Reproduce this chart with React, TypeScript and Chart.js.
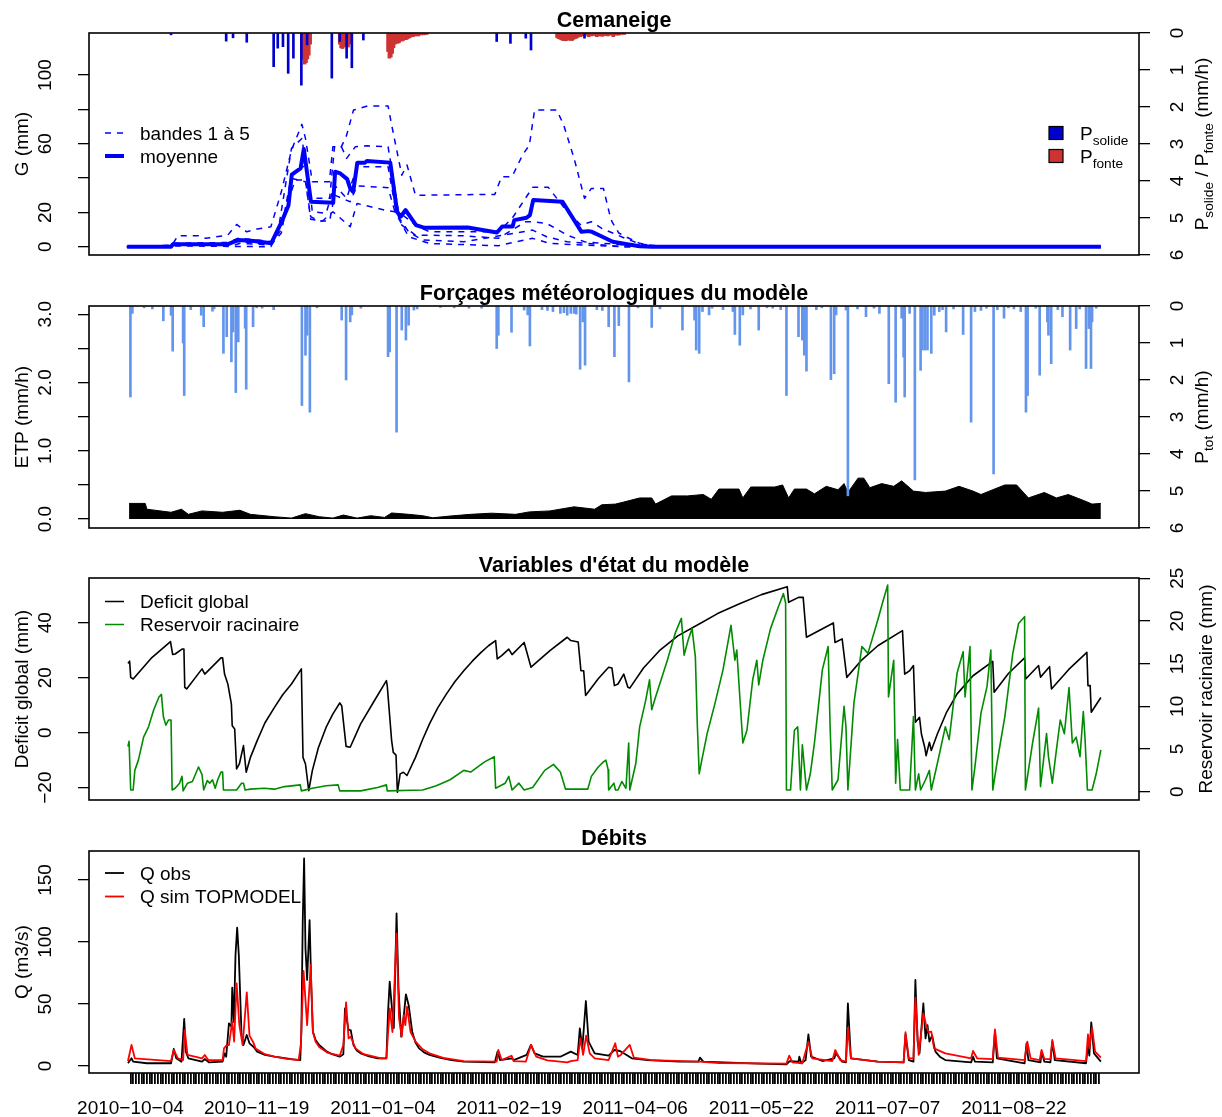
import React, { useEffect, useRef } from 'react';
import { Chart, registerables } from 'chart.js';

Chart.register(...registerables);

const FONT = '"Liberation Sans", Arial, Helvetica, sans-serif';

type Pt = [number, number];

// ---------------- time axis (days since 2010-10-04) ----------------
const X_MIN = -15.1;
const X_MAX = 367.6;
const axisTickDays: number[] = Array.from({ length: 354 }, (_, i) => i);
const dateLabelDays = [0, 46, 92, 138, 184, 230, 276, 322];
const dateLabels = ['2010\u221210\u221204', '2010\u221211\u221219', '2011\u221201\u221204', '2011\u221202\u221219',
  '2011\u221204\u221206', '2011\u221205\u221222', '2011\u221207\u221207', '2011\u221208\u221222'];

// ---------------- Panel 1 : Cemaneige ----------------
const meanG: Pt[] = [[-1.2, 0], [14.8, 0], [15.5, 1.5], [35.6, 1.5], [39.3, 4], [45, 3.3], [51.3, 2], [55.1, 14.5],
  [57.6, 24], [58.8, 42], [62.0, 45.6], [63.2, 57], [65.8, 26.2], [73.9, 25.6], [74.6, 43.7], [76.5, 42.7], [79.0, 39.4],
  [80.1, 34], [81.2, 32], [82.7, 49], [85.5, 49], [86.2, 50], [94.7, 49], [97.2, 20.4], [98.5, 17.5], [100.3, 21.4],
  [104.1, 12.6], [107.2, 11], [123.0, 11.2], [133.6, 8.3], [135.5, 11.8], [139.3, 11.8], [139.9, 15.5], [144.4, 16.9],
  [145.6, 18.4], [146.8, 27.2], [157.5, 26.2], [164.4, 8.7], [166.9, 9.1], [168.2, 8.7], [172.0, 5.8], [175.8, 2.9],
  [180.5, 1.6], [185.7, 0.3], [190, 0], [353.7, 0]];
const bandA: Pt[] = [[-1.3, 0], [14.8, 0], [17.3, 6.4], [24.8, 6.4], [27.4, 4.9], [35.5, 6.8], [38.7, 13], [42.4, 8.7],
  [46.2, 10.3], [51.2, 11.7], [55.0, 32], [58.7, 56.3], [62.5, 71.3], [63.8, 63.1], [66.3, 37.9], [72.5, 37.9],
  [73.8, 58.3], [76.9, 58.3], [78.8, 65], [81.3, 79.6], [86.4, 82], [93.9, 82], [95.2, 71], [98.9, 41.7], [100.8, 47.6],
  [103.9, 30], [132.8, 30.5], [135.3, 40.8], [139.1, 40.8], [142.9, 53.4], [145.4, 59.2], [147.3, 79.6], [155.4, 79.6],
  [157.9, 71], [161.7, 51.5], [165.5, 28.2], [168.0, 34], [172.4, 34], [174.5, 20], [175.5, 14.6], [178, 8],
  [180.3, 6], [185.6, 2], [191.4, 0.5], [200, 0], [353.7, 0]];
const bandB: Pt[] = [[-1.3, 0], [14.8, 0], [16, 2], [35.5, 2.5], [39.3, 5], [46, 4], [51.2, 3], [53.7, 8], [58.7, 57.3],
  [62.5, 63.1], [65.7, 28.2], [68.8, 28.2], [72.6, 28.2], [74.4, 58.3], [76.9, 58.3], [78.8, 51.5], [82.0, 58.3],
  [86.4, 58.8], [93.9, 58.3], [95.8, 39.8], [97.7, 20.4], [103.9, 12.6], [109.0, 8.7], [134.1, 8.7], [139.1, 16.5],
  [146.6, 34.6], [152.3, 34.6], [159.2, 20.4], [164.2, 12.6], [168.0, 14.6], [171.8, 10.7], [180.3, 4.9], [186, 1.5],
  [195, 0], [353.7, 0]];
const bandC: Pt[] = [[-1.3, 0], [14.8, 0], [16, 1.5], [35.5, 1.5], [39.3, 3], [51.2, 1.5], [55, 10], [58.7, 41.7],
  [63.8, 47.6], [65.0, 37.9], [66.3, 20.4], [71.3, 19.4], [74.4, 35.9], [78.8, 28.2], [82.6, 46.6], [93.9, 46.6],
  [96.4, 24.3], [98.9, 12.6], [103.9, 6.8], [121.5, 6.4], [134.1, 4.9], [144.1, 14.6], [146.6, 14.6], [151.7, 13.6],
  [159.2, 6.8], [165.5, 2.9], [180.3, 1], [188, 0], [353.7, 0]];
const bandD: Pt[] = [[-1.3, 0], [16, 1], [38, 1], [40, 2], [51.2, 1], [55, 8], [58.7, 39.8], [63.8, 37.9], [65.7, 17.5],
  [68.8, 15], [72.6, 15], [74.4, 30.1], [80.1, 26.2], [82.6, 35.5], [93.9, 34.4], [96.4, 20.4], [101.4, 8.7],
  [106.5, 3.9], [121.5, 2.9], [146.6, 9.7], [151.7, 5.8], [159.2, 2.9], [180.3, 0], [353.7, 0]];
const bandE: Pt[] = [[-1.3, 0], [16, 0.5], [51.2, 0], [53.7, 8.7], [57.5, 26.2], [60.0, 38.8], [63.8, 39], [65.7, 16],
  [70.0, 15], [73.8, 20.4], [80.1, 11.7], [82.6, 25.2], [87.6, 23.3], [92.6, 21.4], [96.4, 20.4], [101.4, 5.8],
  [109.0, 1.9], [134.1, 0.6], [146.6, 4.9], [152.9, 1.9], [180.3, 0], [353.7, 0]];
const solidRate: Pt[] = [[14.8, 0.05], [34.9, 0.22], [37.4, 0.13], [42.4, 0.25], [52.2, 0.91], [53.7, 0.41],
  [55.6, 0.37], [57.5, 1.09], [59.4, 0.68], [62.3, 1.41], [64.4, 0.32], [73.4, 1.22], [76.3, 0.23], [78.8, 0.68],
  [80.7, 0.94], [84.9, 0.19], [133.5, 0.23], [138.5, 0.28], [144.1, 0.14], [146.0, 0.46], [165.5, 0.14]];
const meltRate: Pt[] = [[62.5, 0.5], [63.0, 0.7], [63.5, 0.84], [64.0, 0.8], [64.5, 0.7], [65.0, 0.6], [65.5, 0.3],
  [76.3, 0.3], [76.8, 0.4], [77.3, 0.42], [77.8, 0.38], [78.3, 0.35], [78.8, 0.3], [79.3, 0.38], [79.8, 0.3], [80.3, 0.2],
  [93.9, 0.5], [94.4, 0.68], [94.9, 0.65], [95.4, 0.55], [95.9, 0.4], [96.4, 0.3], [96.9, 0.25], [97.4, 0.28],
  [97.9, 0.26], [98.4, 0.2], [98.9, 0.22], [99.4, 0.2], [99.9, 0.15], [100.4, 0.18], [100.9, 0.16], [101.4, 0.14],
  [101.9, 0.12], [102.4, 0.1], [103, 0.1], [104, 0.08], [105, 0.08], [106, 0.05], [107, 0.05], [108, 0.04],
  [155.5, 0.12], [156, 0.15], [156.5, 0.16], [157, 0.18], [157.5, 0.2], [158, 0.2], [158.5, 0.21], [159, 0.2],
  [159.5, 0.19], [160, 0.18], [160.5, 0.2], [161, 0.2], [161.5, 0.17], [162, 0.15], [162.5, 0.14], [163, 0.12],
  [163.5, 0.1], [164, 0.1], [165, 0.08], [166, 0.06], [167, 0.1], [168, 0.08], [169, 0.07], [170, 0.1], [171, 0.08],
  [172, 0.09], [173, 0.07], [174, 0.08], [175, 0.06], [176, 0.1], [177, 0.06], [178, 0.06], [179, 0.04], [180, 0.04]];

// ---------------- Panel 2 : forcings ----------------
const etp: Pt[] = [[-0.5, 0.23], [5.4, 0.23], [6.0, 0.145], [14.8, 0.1], [18.6, 0.145], [21.1, 0.07], [26.1, 0.12],
  [33.6, 0.1], [39.9, 0.13], [43.7, 0.07], [52.5, 0.035], [58.7, 0.015], [63.8, 0.08], [68.8, 0.035], [73.8, 0.015],
  [77.6, 0.06], [82.6, 0.015], [87.6, 0.05], [92.6, 0.025], [95.2, 0.09], [101.4, 0.07], [106.5, 0.05], [110.2, 0.02],
  [116.5, 0.045], [124.0, 0.07], [131.6, 0.087], [140.4, 0.07], [145.4, 0.106], [152.9, 0.12], [161.7, 0.18],
  [169.2, 0.145], [171.8, 0.21], [176.8, 0.22], [179.8, 0.25], [185.6, 0.31], [190.0, 0.31], [191.4, 0.22],
  [197.2, 0.34], [203.0, 0.34], [208.8, 0.36], [211.7, 0.29], [214.5, 0.44], [221.8, 0.44], [223.2, 0.31],
  [226.1, 0.47], [234.8, 0.47], [237.7, 0.5], [239.9, 0.31], [242.0, 0.44], [246.4, 0.44], [249.3, 0.37],
  [253.6, 0.48], [257.9, 0.43], [260.1, 0.52], [261.5, 0.39], [265.2, 0.6], [267.3, 0.6], [269.5, 0.46],
  [273.8, 0.52], [278.2, 0.48], [281.1, 0.56], [285.4, 0.41], [289.8, 0.39], [297.0, 0.41], [302.0, 0.48],
  [307.1, 0.41], [310.0, 0.36], [314.3, 0.43], [318.7, 0.5], [323.0, 0.5], [327.3, 0.31], [333.1, 0.39],
  [337.5, 0.31], [341.8, 0.36], [347.6, 0.27], [350.5, 0.22], [353.7, 0.23]];
const ptot: Pt[] = [[0.0, 2.46], [0.7, 0.2], [5, 0.05], [8, 0.08], [12.0, 0.4], [14.8, 0.25], [15.4, 1.22], [19.2, 1.0],
  [19.6, 2.42], [22, 0.1], [25.8, 0.25], [26.7, 0.56], [29.9, 0.14], [30.5, 0.08], [33.9, 1.28], [35.1, 0.83],
  [36.8, 1.51], [37.4, 0.7], [38.4, 2.34], [39.3, 0.97], [41.8, 0.6], [42.2, 2.25], [44.7, 0.56], [46, 0.05],
  [48, 0.06], [52.2, 0.1], [62.5, 2.69], [63.8, 1.33], [64.4, 0.79], [65.4, 2.87], [68, 0.05], [77.0, 0.38],
  [78.6, 2.0], [80.1, 0.43], [80.7, 0.24], [84, 0.06], [93.9, 1.37], [94.5, 1.24], [97.0, 3.41], [98.9, 0.65],
  [100.4, 0.92], [101.4, 0.52], [103.3, 0.11], [104.5, 0.08], [113, 0.04], [118, 0.05], [123.4, 0.06], [128, 0.06],
  [133.5, 1.15], [134.1, 0.79], [138.9, 0.71], [143.5, 0.11], [144.8, 0.24], [145.6, 1.08], [150, 0.1], [152, 0.12],
  [154, 0.15], [156.7, 0.2], [158, 0.18], [159.2, 0.25], [160.5, 0.2], [161.7, 0.2], [162.5, 0.22], [163.9, 1.71],
  [164.9, 0.43], [165.7, 1.6], [170, 0.1], [172, 0.12], [174.3, 0.56], [176.4, 1.37], [178.0, 0.53], [181.7, 2.05],
  [185, 0.05], [190.0, 0.58], [193, 0.08], [201.2, 0.65], [205.6, 0.38], [206.2, 1.19], [207.3, 1.28], [208.5, 0.15],
  [210.9, 0.24], [212, 0.06], [216, 0.1], [219.6, 0.15], [220.3, 0.77], [222.1, 1.06], [223.2, 0.24], [226, 0.08],
  [229.0, 0.65], [232, 0.05], [234.1, 0.06], [237, 0.1], [239.1, 2.42], [243.5, 0.83], [244.9, 0.92], [245.6, 1.33],
  [246.4, 1.76], [250, 0.1], [252, 0.05], [255.3, 1.99], [256.5, 1.83], [257.2, 0.24], [260.8, 0.11], [261.5, 5.13],
  [265, 0.08], [268.1, 0.29], [271, 0.06], [273, 0.2], [276.4, 2.1], [278.9, 2.6], [281.1, 0.33], [281.8, 1.38],
  [282.2, 2.46], [284, 0.2], [285.9, 4.7], [288.0, 1.74], [288.6, 1.19], [289.5, 1.19], [290.5, 1.19], [291.9, 1.28],
  [293, 0.25], [294.8, 0.15], [296, 0.1], [297.3, 0.7], [300, 0.08], [303.5, 0.77], [306.4, 3.14], [307.8, 0.15],
  [310, 0.12], [312, 0.06], [314.6, 4.54], [316, 0.1], [318.4, 0.33], [320, 0.05], [322, 0.08], [324.5, 0.15],
  [326.4, 2.87], [327.0, 2.42], [330, 0.06], [331.4, 1.87], [334.2, 0.43], [334.6, 0.79], [335.6, 1.56], [338, 0.1],
  [339.7, 0.29], [342.5, 1.19], [344.7, 0.61], [346, 0.08], [348.3, 1.69], [349.3, 0.61], [350.1, 1.69],
  [350.5, 0.43], [352, 0.06]];

// ---------------- Panel 3 : state variables ----------------
const deficit: Pt[] = [[-0.9, 25.2], [-0.3, 26.0], [0.1, 20.1], [1.0, 19.5], [7.5, 27.0], [14.6, 33.1], [15.4, 28.4],
  [16.3, 28.6], [18.8, 30.4], [19.5, 30.4], [19.8, 16.5], [20.5, 15.9], [26.1, 23.2], [27.1, 21.3], [33.0, 27.2],
  [33.6, 27.2], [34.3, 21.3], [35.5, 17.7], [36.8, 10.4], [37.1, 2.5], [38.0, 1.3], [38.7, -13.2], [39.7, -11.4],
  [41.2, -4.7], [42.2, -14.4], [43.7, -9.1], [46.2, -2.9], [49.0, 3.5], [52.5, 9.2], [55.5, 13.8], [58.7, 17.7],
  [62.3, 23.2], [62.9, -9.0], [63.8, -11.4], [65.0, -21.1], [66.3, -13.8], [68.5, -5.5], [71.3, 1.9], [73.8, 6.8],
  [76.3, 10.8], [77.0, 9.8], [78.6, -5.0], [80.1, -5.3], [83.9, 3.2], [88.9, 11.6], [93.3, 18.9], [93.6, 17.1],
  [95.2, -2.9], [95.8, -7.2], [96.8, -8.2], [97.3, -21.7], [98.3, -15.0], [99.5, -14.4], [100.8, -15.6],
  [103.9, -9.0], [106.5, -2.5], [109.0, 3.2], [112.0, 9.0], [115.2, 14.1], [118.3, 18.6], [121.5, 22.5],
  [124.6, 26.0], [127.8, 29.2], [130.5, 31.6], [133.1, 33.5], [133.7, 26.8], [135.3, 28.0], [137.9, 30.4],
  [139.1, 28.4], [143.5, 32.8], [146.0, 23.8], [152.9, 29.8], [159.2, 34.7], [160.5, 33.5], [163.2, 33.0],
  [164.2, 22.5], [165.2, 22.5], [165.9, 13.5], [170.5, 19.6], [174.3, 23.8], [175.5, 23.5], [176.4, 17.1],
  [177.7, 17.7], [179.8, 21.3], [181.3, 16.5], [182.0, 16.2], [187.0, 23.5], [192.8, 29.8], [199.5, 35.2],
  [207.3, 39.5], [214.0, 43.3], [221.8, 46.8], [230.0, 50.2], [239.4, 53.1], [239.9, 47.4], [243.5, 49.2],
  [245.2, 49.2], [246.4, 34.7], [256.2, 39.9], [256.8, 32.8], [259.4, 34.1], [261.1, 20.1], [266.5, 26.4],
  [272.4, 31.6], [281.4, 37.1], [282.2, 21.3], [284.0, 22.5], [285.4, 24.4], [286.1, 3.8], [287.6, 5.6],
  [288.3, -0.5], [289.5, -5.3], [290.0, -8.4], [291.2, -3.5], [291.9, -6.5], [294.1, -0.5], [297.5, 7.5],
  [301.3, 14.1], [307.1, 20.7], [314.3, 25.9], [314.8, 14.7], [320.0, 21.5], [325.9, 27.2], [326.3, 19.5],
  [331.0, 24.4], [331.7, 20.2], [335.0, 24.0], [335.7, 15.9], [342.0, 23.0], [348.6, 29.2], [349.0, 17.1],
  [349.8, 17.1], [350.2, 7.4], [353.7, 12.8]];
const reservoir: Pt[] = [[-0.9, 5.3], [-0.5, 5.9], [0.1, 0.2], [1.0, 0.2], [1.6, 2.5], [2.9, 3.7], [4.8, 6.4], [6.6, 7.6],
  [8.5, 9.6], [10.4, 11.1], [11.3, 11.4], [12.0, 8.8], [12.9, 7.8], [13.9, 8.4], [14.8, 8.4], [15.2, 0.2], [16.3, 0.4],
  [17.9, 1.0], [18.8, 1.8], [19.2, 0.1], [20.8, 1.0], [22.6, 1.2], [24.8, 2.9], [26.1, 2.0], [26.7, 0.2], [28.0, 1.3],
  [28.9, 1.0], [29.9, 1.4], [30.9, 0.4], [31.8, 1.4], [33.0, 2.3], [33.6, 2.3], [33.9, 0.2], [38.7, 0.2], [40.5, 1.0],
  [41.2, 1.0], [41.8, 0.2], [43.7, 0.3], [48.7, 0.4], [52.5, 0.3], [56.2, 0.6], [61.9, 0.8], [62.3, 0.1], [66.3, 0.4],
  [71.3, 0.7], [75.7, 0.8], [76.3, 0.1], [83.9, 0.1], [90.1, 0.5], [93.3, 0.8], [93.6, 0.1], [106.5, 0.2],
  [111.5, 0.7], [116.5, 1.4], [121.5, 2.5], [124.0, 2.3], [129.1, 3.5], [132.6, 4.1], [133.1, 0.4], [136.6, 1.0],
  [137.9, 1.8], [139.1, 0.2], [141.6, 1.0], [143.5, 0.2], [146.6, 0.5], [151.0, 2.5], [154.2, 3.2], [156.7, 2.3],
  [158.6, 0.3], [166.7, 0.3], [168.0, 1.8], [170.5, 2.9], [172.4, 3.5], [173.3, 3.7], [174.1, 2.6], [174.3, 0.2],
  [176.2, 1.0], [176.8, 0.2], [177.7, 0.2], [179.1, 1.2], [180.6, 0.4], [181.6, 5.7], [182.0, 0.2], [184.2, 3.3],
  [185.6, 7.6], [187.8, 10.7], [189.2, 13.1], [190.0, 9.6], [191.4, 11.1], [195.7, 15.4], [198.6, 18.6],
  [200.8, 20.3], [201.8, 16.0], [203.3, 17.8], [204.7, 19.1], [205.9, 15.8], [206.6, 8.0], [207.3, 2.1], [208.0, 3.3],
  [210.2, 6.8], [213.1, 10.4], [216.0, 14.3], [218.9, 19.5], [220.3, 15.4], [221.0, 16.6], [223.2, 5.7], [224.7, 7.2],
  [226.8, 13.1], [228.3, 15.4], [229.0, 12.5], [230.5, 15.4], [233.3, 19.1], [236.2, 21.7], [238.0, 23.2],
  [238.8, 22.1], [239.1, 0.2], [240.6, 0.2], [242.0, 7.2], [243.2, 7.6], [244.2, 0.2], [244.9, 5.5], [246.4, 0.2],
  [247.8, 2.1], [249.3, 5.7], [252.2, 14.3], [254.3, 17.0], [255.0, 7.8], [255.8, 0.2], [257.9, 1.4], [260.1, 10.0],
  [260.8, 7.6], [261.5, 0.2], [263.7, 10.4], [266.6, 17.0], [268.8, 16.2], [272.4, 20.1], [274.1, 22.1], [276.0, 24.2],
  [276.3, 11.1], [278.2, 15.4], [278.9, 1.0], [279.6, 6.1], [280.6, 0.2], [284.0, 0.2], [285.4, 8.8], [286.1, 0.2],
  [287.3, 2.1], [288.0, 0.2], [289.8, 1.4], [291.2, 2.5], [291.9, 0.2], [294.1, 3.3], [297.0, 7.6], [298.4, 6.1],
  [301.3, 13.9], [303.5, 16.4], [304.2, 11.1], [306.0, 17.0], [306.7, 0.2], [307.8, 2.9], [310.0, 9.2], [312.2, 12.3],
  [313.6, 16.6], [314.3, 0.2], [315.8, 3.3], [318.7, 8.8], [321.6, 16.2], [323.7, 19.7], [325.9, 20.5], [326.2, 0.2],
  [327.3, 2.5], [328.8, 5.7], [331.0, 9.8], [331.7, 0.6], [333.9, 6.8], [334.6, 4.1], [336.0, 1.0], [337.5, 4.9],
  [338.9, 8.4], [340.4, 6.8], [342.1, 12.2], [343.3, 5.7], [344.7, 6.4], [346.1, 4.1], [347.3, 9.4], [347.9, 6.4],
  [348.8, 0.2], [350.5, 0.2], [352.0, 2.1], [353.7, 4.9]];

// ---------------- Panel 4 : discharge ----------------
const qObs: Pt[] = [[-0.9, 2.2], [0.4, 6.2], [1.0, 3.5], [6.0, 2.2], [14.8, 2.2], [15.8, 13.7], [16.7, 6.2], [18.6, 3.5],
  [19.6, 37.9], [20.2, 11.6], [21.1, 6.2], [26.1, 3.5], [27.1, 5.6], [28.6, 2.9], [33.6, 3.5], [34.3, 10.2],
  [34.9, 7.5], [35.9, 34.4], [36.8, 31.7], [37.1, 63.2], [37.7, 35.5], [38.3, 89.5], [38.9, 111.6], [39.5, 89.5],
  [40.5, 25], [41.2, 16.9], [42.4, 25], [43.4, 18.3], [44.9, 15.3], [46.2, 11.6], [49.0, 9.0], [52.5, 7.5],
  [58.7, 5.6], [61.9, 4.8], [62.3, 27.4], [62.8, 116.4], [63.3, 167.5], [63.8, 94.9], [64.4, 69.4], [65.3, 117.7],
  [65.9, 65.3], [66.5, 27.7], [67.5, 21.0], [68.8, 16.9], [71.3, 12.1], [73.5, 9.5], [76.3, 7.5], [77.6, 9.4],
  [78.2, 46.5], [79.5, 29], [80.3, 29], [81.3, 16.9], [82.5, 12.5], [83.9, 10.2], [87.0, 7.8], [90.1, 6.2],
  [93.3, 6.2], [93.9, 43.8], [94.5, 68], [95.2, 49.5], [96.0, 30.6], [97.0, 123], [97.7, 62.6], [98.7, 23.7],
  [99.6, 39.8], [100.4, 57.8], [101.4, 49.2], [102.7, 27.7], [103.9, 19.0], [105.2, 14.2], [107.0, 11.0],
  [109.0, 8.9], [113.0, 6.5], [117.0, 4.8], [121.5, 3.5], [132.8, 2.9], [133.8, 11.6], [134.7, 4.8], [139.1, 6.2],
  [139.7, 4.8], [144.4, 8.9], [146.0, 17], [147.3, 10.2], [150.4, 7.5], [156.7, 7.5], [160.5, 11.6], [163.0, 8.9],
  [163.8, 30.4], [164.7, 14.2], [166.0, 52.4], [167.0, 19.6], [169.2, 10.2], [174.3, 8.3], [176.4, 12.9],
  [178.4, 12.1], [181.3, 8.3], [182.7, 6.2], [188.5, 4.8], [200.1, 3.5], [207.0, 3.5], [207.6, 6.7], [208.8, 3.5],
  [229.0, 1.9], [239.1, 1.3], [240.3, 4], [243.5, 3.5], [243.8, 7.5], [244.5, 2.2], [246.1, 4.8], [247.1, 25.5],
  [248.1, 7.5], [252.2, 4], [256.5, 6.2], [257.2, 10.2], [259.4, 3.5], [260.8, 2.9], [261.5, 50.5], [262.6, 6.2],
  [272.4, 3.5], [281.8, 2.9], [282.5, 25.5], [283.7, 4.8], [285.4, 3.5], [286.1, 69.4], [286.9, 19.6], [287.6, 10.2],
  [289.0, 50.5], [289.8, 22.3], [290.5, 33], [291.2, 19.6], [292.2, 24.7], [293.4, 11.6], [295.0, 7.5], [297.0, 4.8],
  [306.4, 2.9], [307.1, 7.5], [307.8, 3.5], [314.3, 2.9], [315.1, 27.7], [315.8, 6.2], [325.9, 2.2], [326.6, 18.3],
  [327.3, 4.8], [331.7, 2.9], [332.1, 11.6], [333.1, 3.5], [335.3, 2.9], [336.0, 19.6], [336.9, 4.8], [348.3, 2.2],
  [349.0, 17], [349.5, 8.3], [350.2, 35.2], [351.2, 10.2], [353.7, 3.5]];
const qSim: Pt[] = [[-0.9, 4], [0.4, 17], [1.6, 6.2], [14.8, 4], [15.8, 12.9], [17.3, 6.2], [19.2, 4.8], [19.8, 29],
  [20.8, 8.9], [26.1, 6.2], [27.1, 8.9], [28.4, 4.8], [33.6, 4.8], [34.1, 14.2], [35.1, 16.9], [35.9, 16.9],
  [37.1, 35.8], [37.8, 19.6], [38.7, 66.7], [39.7, 33], [40.9, 16.9], [42.4, 59.4], [43.4, 24.5], [44.7, 19.4],
  [45.6, 14.2], [49.0, 9.5], [52.5, 7.5], [57.0, 5.8], [61.3, 4.8], [62.1, 16.9], [63.1, 76.6], [64.4, 33],
  [65.7, 81.5], [66.5, 27.4], [67.5, 19.5], [68.8, 15.3], [72.0, 10.5], [76.3, 8.3], [77.6, 16.9], [78.6, 51.3],
  [79.5, 22.3], [80.3, 23.7], [82.0, 14.2], [85.0, 9.5], [91.4, 6.2], [93.3, 6.2], [94.5, 46.5], [95.5, 27.4],
  [97.0, 107], [97.9, 38.4], [98.9, 23.7], [99.6, 41.1], [100.2, 33], [100.8, 47.8], [102.1, 27.4], [104.0, 19.4],
  [106.5, 13.5], [109.0, 10.2], [114.0, 6.5], [121.5, 4], [133.5, 3.5], [134.1, 12.9], [135.3, 4.8], [138.9, 8.3],
  [139.7, 4], [144.1, 3.5], [146.0, 17], [147.9, 7.5], [152.0, 4.5], [159.2, 2.9], [160.5, 4], [163.0, 4.8],
  [164.0, 22.3], [165.0, 8.9], [166.1, 24.5], [167.4, 10.2], [169.2, 6.2], [174.3, 4.8], [176.7, 18.3],
  [177.7, 7.5], [178.7, 8.9], [182.0, 17], [183.5, 6.7], [190.0, 4.8], [207.3, 3.5], [214.5, 2.4], [239.1, 1.9],
  [240.1, 8.3], [241.3, 2.9], [244.9, 2.2], [247.1, 19.6], [248.5, 6.2], [255.8, 4], [256.9, 12.9], [258.7, 4.8],
  [260.8, 3.5], [261.5, 30.9], [262.6, 6.2], [272.4, 3.5], [281.8, 2.9], [282.5, 27.2], [283.7, 6.2], [285.4, 6.2],
  [286.1, 55.1], [287.3, 8.9], [289.0, 42.5], [290.0, 33], [290.8, 27.4], [291.9, 27.7], [292.9, 14.2],
  [297.0, 10.2], [306.4, 6.2], [307.1, 12.1], [308.6, 6.2], [314.3, 5.6], [315.1, 29.6], [316.2, 6.7], [325.9, 4.8],
  [326.9, 19.6], [328.1, 6.2], [331.4, 4.8], [332.1, 12.9], [333.1, 5.6], [335.3, 5.6], [336.0, 21], [337.2, 6.2],
  [348.3, 4], [349.0, 25.5], [349.5, 14.2], [350.5, 30.9], [351.6, 11.6], [353.7, 6.7]];

// ---------------- axis ticks ----------------
const gTicks = [0, 20, 40, 60, 80, 100];
const gLabels: Record<number, string> = { 0: '0', 20: '20', 60: '60', 100: '100' };
const rate6Ticks = [0, 1, 2, 3, 4, 5, 6];
const rate6Labels: Record<number, string> = { 0: '0', 1: '1', 2: '2', 3: '3', 4: '4', 5: '5', 6: '6' };
const etpTicks = [0, 0.5, 1, 1.5, 2, 2.5, 3];
const etpLabels: Record<number, string> = { 0: '0.0', 1: '1.0', 2: '2.0', 3: '3.0' };
const defTicks = [-20, 0, 20, 40];
const defLabels: Record<number, string> = { '-20': '\u221220', 0: '0', 20: '20', 40: '40' } as any;
const resTicks = [0, 5, 10, 15, 20, 25];
const resLabels: Record<number, string> = { 0: '0', 5: '5', 10: '10', 15: '15', 20: '20', 25: '25' };
const qTicks = [0, 50, 100, 150];
const qLabels: Record<number, string> = { 0: '0', 50: '50', 100: '100', 150: '150' };

// ---------------- colours ----------------
const C_BLUE = '#0000FF';
const C_SOLID = '#0000CD';
const C_MELT = '#CD3333';
const C_PTOT = '#6495ED';
const C_GREEN = '#008B00';
const C_RED = '#FF0000';

type Run = { t: string; sub?: boolean };
type Row = { y: number; runs: Run[]; kind: 'line' | 'box'; color: string; lw?: number; dash?: number[] };
type Legend = { sampleX: number; textX: number; rows: Row[] };

interface PanelSpec {
  top: number; height: number; boxTop: number; boxBottom: number;
  title: string;
  yMin: number; yMax: number; yTicks: number[]; yLabels: Record<number, string>; yTitle: Run[];
  right?: { min: number; max: number; reverse: boolean; ticks: number[]; labels: Record<number, string>; title: Run[]; titleX: number };
  legends: Legend[];
  datasets: any[];
  showX: boolean;
}

const TXT = 19;
const fnt = (s: number, bold = false) => `${bold ? 'bold ' : ''}${s}px ${FONT}`;

function drawRich(ctx: CanvasRenderingContext2D, runs: Run[], x: number, y: number, size: number, align: 'left' | 'center') {
  const sub = size * 0.72;
  const widths = runs.map((r) => { ctx.font = fnt(r.sub ? sub : size); return ctx.measureText(r.t).width; });
  const total = widths.reduce((a, b) => a + b, 0);
  let cx = align === 'center' ? x - total / 2 : x;
  ctx.textAlign = 'left';
  ctx.textBaseline = 'alphabetic';
  runs.forEach((r, i) => {
    ctx.font = fnt(r.sub ? sub : size);
    ctx.fillText(r.t, cx, y + (r.sub ? size * 0.28 : 0));
    cx += widths[i];
  });
}

function drawRichRot(ctx: CanvasRenderingContext2D, runs: Run[], bx: number, cy: number, size: number) {
  ctx.save();
  ctx.translate(bx, cy);
  ctx.rotate(-Math.PI / 2);
  drawRich(ctx, runs, 0, 0, size, 'center');
  ctx.restore();
}

function decor(spec: PanelSpec) {
  return {
    id: 'decor',
    afterDraw(chart: any) {
      const ctx: CanvasRenderingContext2D = chart.ctx;
      const ca = chart.chartArea;
      ctx.save();
      ctx.strokeStyle = '#000';
      ctx.fillStyle = '#000';
      ctx.lineWidth = 1.6;
      ctx.setLineDash([]);
      ctx.strokeRect(ca.left, ca.top, ca.right - ca.left, ca.bottom - ca.top);
      ctx.font = fnt(21.5, true);
      ctx.textAlign = 'center';
      ctx.textBaseline = 'alphabetic';
      ctx.fillText(spec.title, (ca.left + ca.right) / 2, ca.top - 6.5);
      const midY = (ca.top + ca.bottom) / 2;
      const ys = chart.scales.y;
      spec.yTicks.forEach((v) => {
        const lab = spec.yLabels[v];
        if (lab === undefined) return;
        drawRichRot(ctx, [{ t: lab }], 51, ys.getPixelForValue(v), TXT);
      });
      drawRichRot(ctx, spec.yTitle, 28, midY, TXT);
      if (spec.right) {
        const yr = chart.scales.y1;
        spec.right.ticks.forEach((v) => {
          const lab = spec.right!.labels[v];
          if (lab === undefined) return;
          drawRichRot(ctx, [{ t: lab }], 1183, yr.getPixelForValue(v), TXT);
        });
        drawRichRot(ctx, spec.right.title, spec.right.titleX, midY, TXT);
      }
      ctx.translate(0, -spec.top);
      spec.legends.forEach((lg) => {
        lg.rows.forEach((r) => {
          if (r.kind === 'line') {
            ctx.save();
            ctx.strokeStyle = r.color;
            ctx.lineWidth = r.lw || 1.5;
            ctx.setLineDash(r.dash || []);
            ctx.beginPath();
            ctx.moveTo(lg.sampleX, r.y);
            ctx.lineTo(lg.sampleX + 19, r.y);
            ctx.stroke();
            ctx.restore();
          } else {
            ctx.save();
            ctx.fillStyle = r.color;
            ctx.fillRect(lg.sampleX, r.y - 6.5, 14, 13);
            ctx.strokeStyle = '#000';
            ctx.lineWidth = 1.2;
            ctx.strokeRect(lg.sampleX, r.y - 6.5, 14, 13);
            ctx.restore();
          }
          ctx.fillStyle = '#000';
          drawRich(ctx, r.runs, lg.textX, r.y + 6.5, TXT, 'left');
        });
      });
      ctx.translate(0, spec.top);
      if (spec.showX) {
        const xs = chart.scales.x;
        ctx.font = fnt(TXT);
        ctx.textAlign = 'center';
        ctx.textBaseline = 'alphabetic';
        dateLabelDays.forEach((d, i) => {
          ctx.fillText(dateLabels[i], xs.getPixelForValue(d), ca.bottom + 41);
        });
      }
      ctx.restore();
    },
  };
}

const xy = (a: Pt[]) => a.map(([x, y]) => ({ x, y }));
const lineDs = (data: Pt[], color: string, width: number, extra: any = {}) => ({
  type: 'line', data: xy(data), borderColor: color, backgroundColor: color, borderWidth: width,
  pointRadius: 0, tension: 0, fill: false, yAxisID: 'y', borderJoinStyle: 'round', ...extra,
});
const barDs = (data: Pt[], color: string, thickness: number) => ({
  type: 'bar', data: xy(data), backgroundColor: color, borderWidth: 0, barThickness: thickness,
  grouped: false, yAxisID: 'y1',
});

const BAND_DASH = [6, 6];

const panels: PanelSpec[] = [
  {
    top: 0, height: 272, boxTop: 33, boxBottom: 255, title: 'Cemaneige',
    yMin: -4.8, yMax: 124.5, yTicks: gTicks, yLabels: gLabels, yTitle: [{ t: 'G (mm)' }],
    right: { min: 0, max: 6, reverse: true, ticks: rate6Ticks, labels: rate6Labels, titleX: 1208,
      title: [{ t: 'P' }, { t: 'solide', sub: true }, { t: ' / P' }, { t: 'fonte', sub: true }, { t: ' (mm/h)' }] },
    legends: [
      { sampleX: 105, textX: 140, rows: [
        { y: 133, kind: 'line', color: C_BLUE, lw: 1.5, dash: BAND_DASH, runs: [{ t: 'bandes 1 \u00e0 5' }] },
        { y: 156, kind: 'line', color: C_BLUE, lw: 4, runs: [{ t: 'moyenne' }] },
      ] },
      { sampleX: 1049, textX: 1080, rows: [
        { y: 133, kind: 'box', color: C_SOLID, runs: [{ t: 'P' }, { t: 'solide', sub: true }] },
        { y: 156, kind: 'box', color: C_MELT, runs: [{ t: 'P' }, { t: 'fonte', sub: true }] },
      ] },
    ],
    datasets: [
      barDs(solidRate, C_SOLID, 2),
      barDs(meltRate, C_MELT, 3),
      lineDs(meanG, C_BLUE, 4),
      lineDs(bandA, C_BLUE, 1.5, { borderDash: BAND_DASH }),
      lineDs(bandB, C_BLUE, 1.5, { borderDash: BAND_DASH }),
      lineDs(bandC, C_BLUE, 1.5, { borderDash: BAND_DASH }),
      lineDs(bandD, C_BLUE, 1.5, { borderDash: BAND_DASH }),
      lineDs(bandE, C_BLUE, 1.5, { borderDash: BAND_DASH }),
    ],
    showX: false,
  },
  {
    top: 272, height: 273, boxTop: 306, boxBottom: 528, title: 'For\u00e7ages m\u00e9t\u00e9orologiques du mod\u00e8le',
    yMin: -0.13, yMax: 3.12, yTicks: etpTicks, yLabels: etpLabels, yTitle: [{ t: 'ETP (mm/h)' }],
    right: { min: 0, max: 6, reverse: true, ticks: rate6Ticks, labels: rate6Labels, titleX: 1208,
      title: [{ t: 'P' }, { t: 'tot', sub: true }, { t: ' (mm/h)' }] },
    legends: [],
    datasets: [
      barDs(ptot, C_PTOT, 2),
      lineDs(etp, '#000', 1, { fill: 'origin', backgroundColor: '#000' }),
    ],
    showX: false,
  },
  {
    top: 545, height: 273, boxTop: 578, boxBottom: 800, title: "Variables d'\u00e9tat du mod\u00e8le",
    yMin: -24.5, yMax: 56.25, yTicks: defTicks, yLabels: defLabels, yTitle: [{ t: 'Deficit global (mm)' }],
    right: { min: -0.97, max: 25.03, reverse: false, ticks: resTicks, labels: resLabels, titleX: 1212,
      title: [{ t: 'Reservoir racinaire (mm)' }] },
    legends: [
      { sampleX: 105, textX: 140, rows: [
        { y: 601.5, kind: 'line', color: '#000', lw: 1.5, runs: [{ t: 'Deficit global' }] },
        { y: 624.5, kind: 'line', color: C_GREEN, lw: 1.5, runs: [{ t: 'Reservoir racinaire' }] },
      ] },
    ],
    datasets: [
      lineDs(reservoir, C_GREEN, 1.6, { yAxisID: 'y1' }),
      lineDs(deficit, '#000', 1.6),
    ],
    showX: false,
  },
  {
    top: 818, height: 299, boxTop: 851, boxBottom: 1073, title: 'D\u00e9bits',
    yMin: -5.65, yMax: 173.4, yTicks: qTicks, yLabels: qLabels, yTitle: [{ t: 'Q (m3/s)' }],
    legends: [
      { sampleX: 105, textX: 140, rows: [
        { y: 873, kind: 'line', color: '#000', lw: 1.8, runs: [{ t: 'Q obs' }] },
        { y: 896.5, kind: 'line', color: C_RED, lw: 1.8, runs: [{ t: 'Q sim TOPMODEL' }] },
      ] },
    ],
    datasets: [
      lineDs(qSim, C_RED, 1.8),
      lineDs(qObs, '#000', 1.8),
    ],
    showX: true,
  },
];

function buildChart(canvas: HTMLCanvasElement, spec: PanelSpec) {
  const tickGrid = (lw: number) => ({
    display: true, drawOnChartArea: false, drawTicks: true, tickLength: 11, color: '#000', lineWidth: lw, offset: false,
  });
  const xScale: any = {
    type: 'linear', min: X_MIN, max: X_MAX, offset: false, display: spec.showX,
    grid: tickGrid(1.8), border: { display: false }, ticks: { display: false },
    afterBuildTicks: (s: any) => { s.ticks = axisTickDays.map((v) => ({ value: v })); },
  };
  if (spec.showX) xScale.afterFit = (s: any) => { s.height = 44; };
  const scales: any = {
    x: xScale,
    y: {
      type: 'linear', position: 'left', min: spec.yMin, max: spec.yMax,
      grid: tickGrid(1.3), border: { display: false }, ticks: { display: false },
      afterBuildTicks: (s: any) => { s.ticks = spec.yTicks.map((v) => ({ value: v })); },
      afterFit: (s: any) => { s.width = 89; },
    },
  };
  if (spec.right) {
    const r = spec.right;
    scales.y1 = {
      type: 'linear', position: 'right', min: r.min, max: r.max, reverse: r.reverse,
      grid: tickGrid(1.3), border: { display: false }, ticks: { display: false },
      afterBuildTicks: (s: any) => { s.ticks = r.ticks.map((v) => ({ value: v })); },
      afterFit: (s: any) => { s.width = 83; },
    };
  }
  const padBottom = spec.showX ? 0 : spec.top + spec.height - spec.boxBottom;
  return new Chart(canvas, {
    type: 'line',
    data: { datasets: spec.datasets },
    options: {
      animation: false,
      responsive: false,
      maintainAspectRatio: false,
      events: [],
      layout: { padding: { top: spec.boxTop - spec.top, bottom: padBottom, left: 0, right: spec.right ? 0 : 83 } },
      plugins: { legend: { display: false }, tooltip: { enabled: false }, title: { display: false } },
      scales,
    },
    plugins: [decor(spec)],
  } as any);
}

export default function App() {
  const refs = [useRef<HTMLCanvasElement>(null), useRef<HTMLCanvasElement>(null), useRef<HTMLCanvasElement>(null), useRef<HTMLCanvasElement>(null)];
  useEffect(() => {
    const charts = panels.map((p, i) => buildChart(refs[i].current as HTMLCanvasElement, p));
    return () => charts.forEach((c) => c.destroy());
  }, []);
  return (
    <div style={{ position: 'absolute', left: 0, top: 0, width: 1222, height: 1117, background: '#fff' }}>
      {panels.map((p, i) => (
        <canvas key={i} ref={refs[i]} width={1222} height={p.height}
          style={{ position: 'absolute', left: 0, top: p.top, width: 1222, height: p.height }} />
      ))}
    </div>
  );
}
